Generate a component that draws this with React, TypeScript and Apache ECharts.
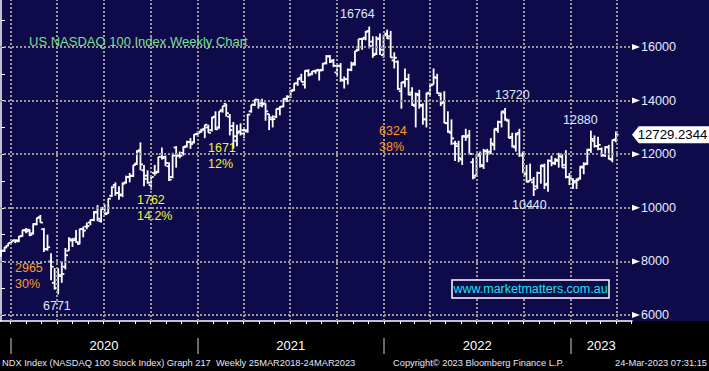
import { useEffect, useRef } from "react";
import * as echarts from "echarts";

// Weekly bars, first bar = week of 2019-12-02
const FIRST_WEEK = "2019-12-02";

const opens = [
  8400, 8400, 8580, 8700, 8790, 8750, 8950, 9150, 9180, 9050,
  9380, 9650, 9200, 8450, 8000, 7200, 7000, 7450, 7800, 8400,
  8780, 8850, 8650, 9200, 9300, 9450, 9550, 9850, 9500, 10000,
  9800, 10450, 10850, 10550, 10500, 10950, 11150, 11200, 11650, 12150,
  11400, 11200, 10850, 11300, 11350, 12000, 11900, 11550, 11150, 12250,
  11950, 12050, 12300, 12450, 12450, 12750, 12850, 12950, 13000, 12900,
  13400, 13000, 13650, 13879, 13400, 13050, 12500, 12850, 12900, 12850,
  13600, 13850, 14000, 13900, 13900, 13500, 13300, 13400, 13700, 13780,
  14070, 14150, 14400, 14650, 14850, 14600, 15100, 15000, 15100, 15150,
  15150, 15400, 15650, 15500, 15050, 15300, 14750, 14800, 15150, 15400,
  15900, 16300, 16350, 16600, 16200, 15750, 16300, 15700, 16500, 16400,
  15500, 15450, 14350, 14700, 14800, 14300, 13800, 14200, 13800, 13300,
  14300, 14600, 14850, 14200, 13950, 13150, 12800, 12400, 12300, 11800,
  12650, 12700, 11700, 11200, 12000, 11550, 12100, 12100, 12350, 12900,
  13200, 13550, 13250, 12650, 12250, 12800, 11950, 11250, 11000, 10950,
  10800, 11300, 11550, 10900, 11750, 11650, 11750, 11900, 11600, 11150,
  11050, 11000, 11100, 11500, 11650, 12150, 12500, 12300, 12200, 11950,
  12250, 11800, 12550,
];
const highs = [
  8420, 8550, 8680, 8800, 8810, 8950, 9180, 9250, 9200, 9420,
  9630, 9736, 9250, 9000, 8300, 7750, 7750, 8000, 8500, 8900,
  8870, 9170, 9220, 9300, 9450, 9560, 9880, 10100, 10000, 10130,
  10350, 10800, 10950, 10800, 10950, 11200, 11300, 11600, 12150, 12439,
  11600, 11400, 11200, 11600, 11900, 12250, 11950, 11700, 12050, 12300,
  12100, 12300, 12500, 12600, 12750, 12850, 12950, 13100, 13100, 13400,
  13600, 13600, 13800, 13879, 13500, 13200, 13100, 13150, 12950, 13500,
  13850, 14050, 14060, 14070, 13900, 13500, 13450, 13700, 13790, 14080,
  14200, 14400, 14650, 14850, 15000, 15130, 15170, 15100, 15150, 15170,
  15400, 15700, 15700, 15550, 15400, 15400, 14900, 15200, 15450, 15850,
  16300, 16350, 16600, 16764, 16400, 16400, 16500, 16450, 16650, 16600,
  15800, 15500, 14700, 15200, 15000, 14500, 14300, 14400, 13900, 14300,
  14650, 15200, 15000, 14300, 14350, 13600, 13300, 12500, 12500, 12700,
  12950, 12900, 11850, 12000, 12100, 12200, 12200, 12600, 12950, 13250,
  13600, 13720, 13300, 12800, 12800, 12950, 12100, 11600, 11650, 11150,
  11350, 11600, 11650, 11800, 11950, 11850, 12050, 12000, 12150, 11300,
  11100, 11100, 11550, 11700, 12200, 12880, 12700, 12650, 12250, 12300,
  12350, 12550, 12850,
];
const lows = [
  8170, 8350, 8560, 8690, 8680, 8720, 8920, 9050, 8940, 9000,
  9350, 9450, 8350, 8400, 7300, 6950, 6771, 7200, 7700, 8400,
  8540, 8700, 8640, 8900, 9200, 9350, 9500, 9500, 9450, 9750,
  9780, 10400, 10450, 10300, 10400, 10900, 10950, 11150, 11600, 11400,
  10800, 10900, 10677, 11200, 11300, 11800, 11550, 11000, 11100, 11500,
  11850, 11950, 12250, 12200, 12400, 12650, 12800, 12600, 12800, 12850,
  12900, 12950, 13550, 13400, 12700, 12208, 12300, 12700, 12600, 12800,
  13550, 13800, 13700, 13750, 13250, 12900, 13000, 13350, 13450, 13750,
  13950, 14100, 14350, 14550, 14700, 14450, 14900, 14950, 15000, 14750,
  15100, 15350, 15400, 15250, 14950, 14700, 14450, 14600, 15100, 15300,
  15850, 15900, 16250, 15950, 15600, 15700, 15700, 15600, 16300, 15600,
  15200, 14400, 13700, 14500, 14200, 13800, 13000, 13700, 13100, 13000,
  14150, 14600, 14250, 13800, 13150, 12800, 12350, 11750, 11700, 11600,
  12500, 12000, 11070, 11150, 11500, 11450, 11700, 12000, 12150, 12800,
  13000, 13250, 12600, 12250, 12100, 11900, 11300, 10950, 11000, 10440,
  10700, 10900, 10700, 10600, 11550, 11600, 11500, 11500, 11100, 10850,
  10700, 10700, 11050, 11250, 11600, 12050, 12250, 12150, 11900, 11900,
  11800, 11700, 12450,
];
const closes = [
  8400, 8520, 8680, 8770, 8790, 8930, 9170, 9120, 8990, 9400,
  9620, 9450, 8460, 8530, 7800, 7000, 7500, 7530, 8230, 8830,
  8790, 8720, 9210, 9150, 9320, 9550, 9820, 9590, 9950, 9760,
  10340, 10770, 10550, 10460, 10900, 11150, 11180, 11600, 12100, 11620,
  11080, 10940, 11150, 11300, 11900, 11850, 11670, 11050, 11950, 11940,
  11940, 12260, 12460, 12380, 12740, 12800, 12890, 13100, 12800, 13370,
  12930, 13600, 13800, 13530, 12900, 12670, 12800, 12770, 12900, 13480,
  13850, 14040, 13820, 13860, 13600, 13370, 13310, 13690, 13770, 14070,
  14140, 14360, 14640, 14800, 14700, 15120, 14960, 15090, 15120, 15120,
  15380, 15650, 15450, 15300, 15300, 14780, 14800, 15150, 15340, 15850,
  16300, 16300, 16570, 16030, 15700, 16320, 15900, 16440, 16320, 15610,
  15600, 14440, 14670, 14800, 14220, 13850, 14250, 13840, 13300, 14260,
  14570, 14870, 14280, 13900, 13170, 12850, 12590, 12390, 11850, 12680,
  12640, 12010, 11130, 11940, 11600, 12130, 12040, 12400, 12950, 13210,
  13600, 13300, 12600, 12300, 12740, 12000, 11310, 10970, 11050, 10690,
  11300, 11590, 10850, 11760, 11680, 11800, 11930, 11500, 11150, 11100,
  10940, 11040, 11540, 11620, 12170, 12570, 12300, 12350, 11970, 12270,
  11830, 12520, 12729.2344,
];

const LAST_PRICE = 12729.2344;
const Y_MAJOR = [6000, 8000, 10000, 12000, 14000, 16000];
const Y_ALL_TICKS = [6000, 7000, 8000, 9000, 10000, 11000, 12000, 13000, 14000, 15000, 16000, 17000];
const YEAR_LABELS = ["2020", "2021", "2022", "2023"];
const YEAR_STARTS = ["2020-01-01", "2021-01-01", "2022-01-01", "2023-01-01"];

const TITLE = "US NASDAQ 100 Index Weekly Chart";
const WEBSITE = "www.marketmatters.com.au";
const FOOTER_LEFT = "NDX Index (NASDAQ 100 Stock Index) Graph 217  Weekly 25MAR2018-24MAR2023";
const FOOTER_MID = "Copyright\u00a9 2023 Bloomberg Finance L.P.";
const FOOTER_RIGHT = "24-Mar-2023 07:31:15";

const NOTE_TEXTS = ["16764", "13720", "12880", "10440", "6771", "2965", "30%", "1762", "14.2%", "1671", "12%", "6324", "38%"];
const NOTE_TONES = ["w", "w", "w", "w", "w", "o", "o", "y", "y", "y", "y", "o", "o"];

// ---------- layout / styling ----------
const NOTE_POS: [number, number][] = [
  [340, 14], [495, 95], [563, 120], [512, 205], [43, 306], [15, 268], [15, 284],
  [137, 200], [137, 216], [208, 148], [208, 164], [379, 131], [379, 147],
];
const TONE_COLOR: Record<string, string> = { w: "#dfe7ff", o: "#ff9b26", y: "#f2f23a" };

const NAVY = "#0f0b4a";
const FONT = '"Liberation Sans", Arial, sans-serif';
const DAY = 86400000;
const WEEK_SHIFT = -1.6;
const idx = (d: string) => (Date.parse(d) - Date.parse(FIRST_WEEK)) / (7 * DAY) + WEEK_SHIFT;

const X_MIN = -0.28;
const X_MAX = 176.5;

const quarterStarts: number[] = [];
const monthStarts: number[] = [];
for (let y = 2020; y <= 2023; y++) {
  for (let m = 1; m <= 12; m++) {
    const d = `${y}-${String(m).padStart(2, "0")}-01`;
    const v = idx(d);
    if (v > X_MAX) continue;
    monthStarts.push(v);
    if ((m - 1) % 3 === 0) quarterStarts.push(v);
  }
}
const yearStartIdx = YEAR_STARTS.map(idx);
const yearCenters = yearStartIdx.map((s, i) =>
  (s + (i + 1 < yearStartIdx.length ? yearStartIdx[i + 1] : X_MAX)) / 2
);

const bars = opens.map((o, i) => [i, o, highs[i], lows[i], closes[i]]);

const gridLine = { color: "#9a9a9a", width: 2, type: [2, 2] as number[] };

const option: any = {
  animation: false,
  backgroundColor: "transparent",
  grid: { left: 0, right: 77, top: 0, bottom: 50, containLabel: false },
  xAxis: [
    {
      type: "value",
      min: X_MIN,
      max: X_MAX,
      axisLine: { show: true, lineStyle: { color: "#ffffff", width: 1.5 } },
      axisTick: { show: true, customValues: monthStarts, length: 3, lineStyle: { color: "#ffffff", width: 1 } },
      axisLabel: { show: false },
      splitLine: { show: false },
    },
    {
      type: "value",
      min: X_MIN,
      max: X_MAX,
      position: "bottom",
      offset: 17,
      axisLine: { show: false },
      axisTick: { show: true, customValues: yearStartIdx, length: 16, lineStyle: { color: "#8c8c8c", width: 1.5 } },
      axisLabel: {
        show: true,
        customValues: yearCenters,
        margin: 1,
        color: "#ffffff",
        fontSize: 13,
        fontFamily: FONT,
        formatter: (v: number) => {
          const k = yearCenters.findIndex((c) => Math.abs(c - v) < 1e-6);
          return k >= 0 ? YEAR_LABELS[k] : "";
        },
      },
      splitLine: { show: false },
    },
  ],
  yAxis: {
    type: "value",
    position: "right",
    min: 5776,
    max: 17754,
    axisLine: { show: true, lineStyle: { color: "#ffffff", width: 1.5 } },
    axisTick: { show: true, customValues: Y_ALL_TICKS, length: 4, lineStyle: { color: "#ffffff", width: 1 } },
    axisLabel: {
      show: true,
      customValues: Y_MAJOR,
      margin: 9,
      color: "#e6ecff",
      fontSize: 12.6,
      fontFamily: FONT,
      formatter: (v: number) => String(Math.round(v)),
    },
    splitLine: { show: false },
  },
  series: [
    {
      type: "line",
      data: [],
      z: 1,
      silent: true,
      markLine: {
        silent: true,
        symbol: ["none", "none"],
        label: { show: false },
        lineStyle: gridLine,
        data: [
          ...quarterStarts.map((v) => ({ xAxis: v })),
          ...Y_MAJOR.map((v) => ({ yAxis: v })),
        ],
      },
      markPoint: {
        silent: true,
        data: [
          ...Y_MAJOR.map((v) => ({
            coord: [X_MAX, v],
            symbol: "triangle",
            symbolRotate: -90,
            symbolSize: [6, 8],
            symbolOffset: [4, 0],
            itemStyle: { color: "#ffffff" },
            label: { show: false },
          })),
          {
            coord: [X_MAX, LAST_PRICE],
            symbol: "path://M0,8.5L7,0H80V17H7Z",
            symbolKeepAspect: false,
            symbolSize: [77, 17],
            symbolOffset: [38.5, 0],
            itemStyle: { color: "#ffffff" },
            label: {
              show: true,
              position: "inside",
              offset: [2, 0],
              formatter: () => LAST_PRICE.toFixed(4),
              color: "#000000",
              fontSize: 13.2,
              fontFamily: FONT,
            },
          },
        ],
      },
    },
    {
      type: "custom",
      z: 3,
      silent: true,
      data: bars,
      encode: { x: 0, y: [1, 2, 3, 4] },
      renderItem: (_p: any, api: any) => {
        const x = api.value(0);
        const o = api.coord([x, api.value(1)]);
        const h = api.coord([x, api.value(2)]);
        const l = api.coord([x, api.value(3)]);
        const c = api.coord([x, api.value(4)]);
        const style = { stroke: "#ffffff", lineWidth: 1.8, fill: "none" };
        return {
          type: "group",
          children: [
            { type: "line", shape: { x1: h[0], y1: h[1], x2: l[0], y2: l[1] }, style },
            { type: "line", shape: { x1: o[0] - 2.6, y1: o[1], x2: o[0], y2: o[1] }, style },
            { type: "line", shape: { x1: c[0], y1: c[1], x2: c[0] + 2.6, y2: c[1] }, style },
          ],
        };
      },
    },
  ],
  graphic: [
    {
      type: "text",
      x: 29,
      y: 41,
      z: 10,
      style: { text: TITLE, fill: "#74e08c", fontSize: 13, fontFamily: FONT, verticalAlign: "middle" },
    },
    ...NOTE_TEXTS.map((t, i) => ({
      type: "text",
      x: NOTE_POS[i][0],
      y: NOTE_POS[i][1],
      z: 10,
      style: { text: t, fill: TONE_COLOR[NOTE_TONES[i]], fontSize: 12.5, fontFamily: FONT, verticalAlign: "middle" },
    })),
    {
      type: "rect",
      z: 10,
      shape: { x: 452, y: 280, width: 157, height: 18 },
      style: { fill: NAVY, stroke: "#ffffff", lineWidth: 1.5 },
    },
    {
      type: "text",
      x: 530.5,
      y: 289,
      z: 11,
      style: { text: WEBSITE, fill: "#19e3f0", fontSize: 12.5, fontFamily: FONT, align: "center", verticalAlign: "middle" },
    },
    {
      type: "text",
      x: 2,
      y: 363,
      z: 10,
      style: { text: FOOTER_LEFT, fill: "#e2e6ff", fontSize: 9.3, fontFamily: FONT, verticalAlign: "middle" },
    },
    {
      type: "text",
      x: 393,
      y: 363,
      z: 10,
      style: { text: FOOTER_MID, fill: "#e2e6ff", fontSize: 9.3, fontFamily: FONT, verticalAlign: "middle" },
    },
    {
      type: "text",
      x: 707,
      y: 363,
      z: 10,
      style: { text: FOOTER_RIGHT, fill: "#e2e6ff", fontSize: 9.3, fontFamily: FONT, align: "right", verticalAlign: "middle" },
    },
  ],
};

export default function App() {
  const ref = useRef<HTMLDivElement>(null);
  useEffect(() => {
    document.body.style.margin = "0";
    const chart = echarts.init(ref.current!, undefined, { renderer: "svg" });
    chart.setOption(option);
    return () => chart.dispose();
  }, []);
  return (
    <div
      ref={ref}
      style={{
        width: 709,
        height: 371,
        background: `linear-gradient(to bottom, ${NAVY} 0px, ${NAVY} 321px, #000000 321px, #000000 371px)`,
      }}
    />
  );
}
